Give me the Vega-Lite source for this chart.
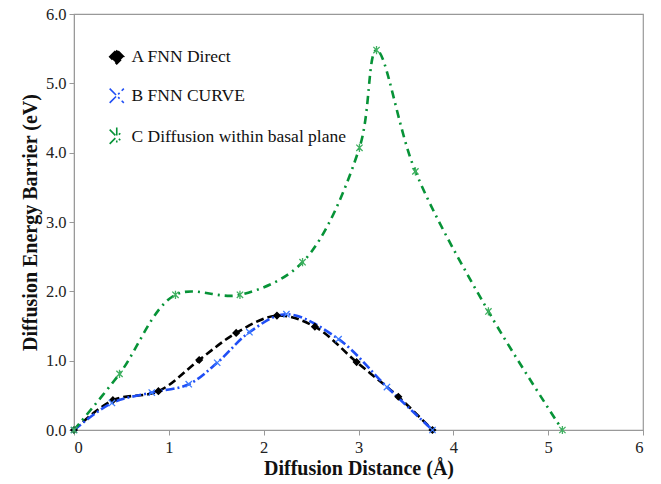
{
  "$schema": "https://vega.github.io/schema/vega-lite/v6.json",
  "width": 569,
  "height": 416,
  "autosize": {"type": "none"},
  "padding": {"left": 74, "top": 14, "right": 18, "bottom": 54},
  "background": "white",
  "config": {
    "view": {"stroke": "#999999", "strokeWidth": 1.2},
    "font": "Liberation Serif",
    "text": {"font": "Liberation Serif"},
    "legend": {"labelFont": "Liberation Serif"},
    "axis": {
      "domainColor": "#999999",
      "tickColor": "#999999",
      "tickSize": 5,
      "grid": false,
      "labelFont": "Liberation Serif",
      "labelFontSize": 16.5,
      "labelColor": "#222222",
      "titleFont": "Liberation Serif",
      "titleFontSize": 20,
      "titleFontWeight": "bold",
      "titleColor": "#111111"
    }
  },
  "data": {
    "values": [
      {"series": "A FNN Direct", "x": 0, "y": 0},
      {"series": "A FNN Direct", "x": 0.41, "y": 0.43},
      {"series": "A FNN Direct", "x": 0.89, "y": 0.56},
      {"series": "A FNN Direct", "x": 1.32, "y": 1.01},
      {"series": "A FNN Direct", "x": 1.71, "y": 1.4},
      {"series": "A FNN Direct", "x": 2.14, "y": 1.65},
      {"series": "A FNN Direct", "x": 2.54, "y": 1.49},
      {"series": "A FNN Direct", "x": 2.98, "y": 0.98},
      {"series": "A FNN Direct", "x": 3.42, "y": 0.48},
      {"series": "A FNN Direct", "x": 3.78, "y": 0},
      {"series": "B FNN CURVE", "x": 0, "y": 0},
      {"series": "B FNN CURVE", "x": 0.4, "y": 0.39},
      {"series": "B FNN CURVE", "x": 0.82, "y": 0.54},
      {"series": "B FNN CURVE", "x": 1.21, "y": 0.66},
      {"series": "B FNN CURVE", "x": 1.51, "y": 0.97},
      {"series": "B FNN CURVE", "x": 1.85, "y": 1.41},
      {"series": "B FNN CURVE", "x": 2.24, "y": 1.67},
      {"series": "B FNN CURVE", "x": 2.79, "y": 1.31},
      {"series": "B FNN CURVE", "x": 3.3, "y": 0.62},
      {"series": "B FNN CURVE", "x": 3.78, "y": 0},
      {"series": "C Diffusion within basal plane", "x": 0, "y": 0},
      {"series": "C Diffusion within basal plane", "x": 0.48, "y": 0.81},
      {"series": "C Diffusion within basal plane", "x": 1.07, "y": 1.95},
      {"series": "C Diffusion within basal plane", "x": 1.75, "y": 1.95},
      {"series": "C Diffusion within basal plane", "x": 2.41, "y": 2.42},
      {"series": "C Diffusion within basal plane", "x": 3.01, "y": 4.07},
      {"series": "C Diffusion within basal plane", "x": 3.19, "y": 5.48},
      {"series": "C Diffusion within basal plane", "x": 3.6, "y": 3.73},
      {"series": "C Diffusion within basal plane", "x": 4.37, "y": 1.71},
      {"series": "C Diffusion within basal plane", "x": 5.15, "y": 0}
    ]
  },
  "encoding": {
    "x": {
      "field": "x", "type": "quantitative",
      "scale": {"domain": [0, 6], "nice": false, "zero": true},
      "axis": {"values": [0, 1, 2, 3, 4, 5, 6], "format": "d", "labelPadding": 4, "titlePadding": 3, "labelFont": "Liberation Serif", "title": "Diffusion Distance (Å)"}
    },
    "y": {
      "field": "y", "type": "quantitative",
      "scale": {"domain": [0, 6], "nice": false},
      "axis": {"values": [0, 1, 2, 3, 4, 5, 6], "format": ".1f", "labelPadding": 3, "titlePadding": 5, "labelFont": "Liberation Serif", "title": "Diffusion Energy Barrier (eV)"}
    }
  },
  "layer": [
    {
      "mark": {"type": "line", "interpolate": "catmull-rom", "strokeWidth": 2.6},
      "encoding": {
        "color": {
          "field": "series", "type": "nominal",
          "scale": {"domain": ["A FNN Direct", "B FNN CURVE", "C Diffusion within basal plane"], "range": ["#000000", "#1f4ef5", "#079337"]},
          "legend": {
            "orient": "none",
            "legendX": 34,
            "legendY": 34,
            "title": null,
            "labelFont": "Liberation Serif",
            "labelFontSize": 17.5,
            "labelLimit": 400,
            "labelColor": "#111111",
            "labelOffset": 6,
            "symbolSize": 200,
            "symbolStrokeWidth": 1.6,
            "rowPadding": 17,
            "padding": 0
          }
        },
        "strokeDash": {
          "field": "series", "type": "nominal",
          "scale": {"domain": ["A FNN Direct", "B FNN CURVE", "C Diffusion within basal plane"], "range": [[8, 4], [9, 3, 2, 3], [8, 5, 2, 5]]},
          "legend": null
        }
      }
    },
    {
      "mark": {"type": "point", "filled": false, "strokeWidth": 1.3, "size": 40, "opacity": 1},
      "encoding": {
        "shape": {
          "field": "series", "type": "nominal",
          "scale": {"domain": ["A FNN Direct", "B FNN CURVE", "C Diffusion within basal plane"], "range": ["diamond", "M-1,-1L1,1M-1,1L1,-1", "M-1,-1L1,1M-1,1L1,-1M0,-1.3L0,1.3"]},
          "legend": null
        },
        "stroke": {
          "field": "series", "type": "nominal",
          "scale": {"domain": ["A FNN Direct", "B FNN CURVE", "C Diffusion within basal plane"], "range": ["#000000", "#3d7bff", "#3fb060"]},
          "legend": null
        },
        "fill": {
          "field": "series", "type": "nominal",
          "scale": {"domain": ["A FNN Direct", "B FNN CURVE", "C Diffusion within basal plane"], "range": ["#000000", "transparent", "transparent"]},
          "legend": null
        }
      }
    }
  ]
}
